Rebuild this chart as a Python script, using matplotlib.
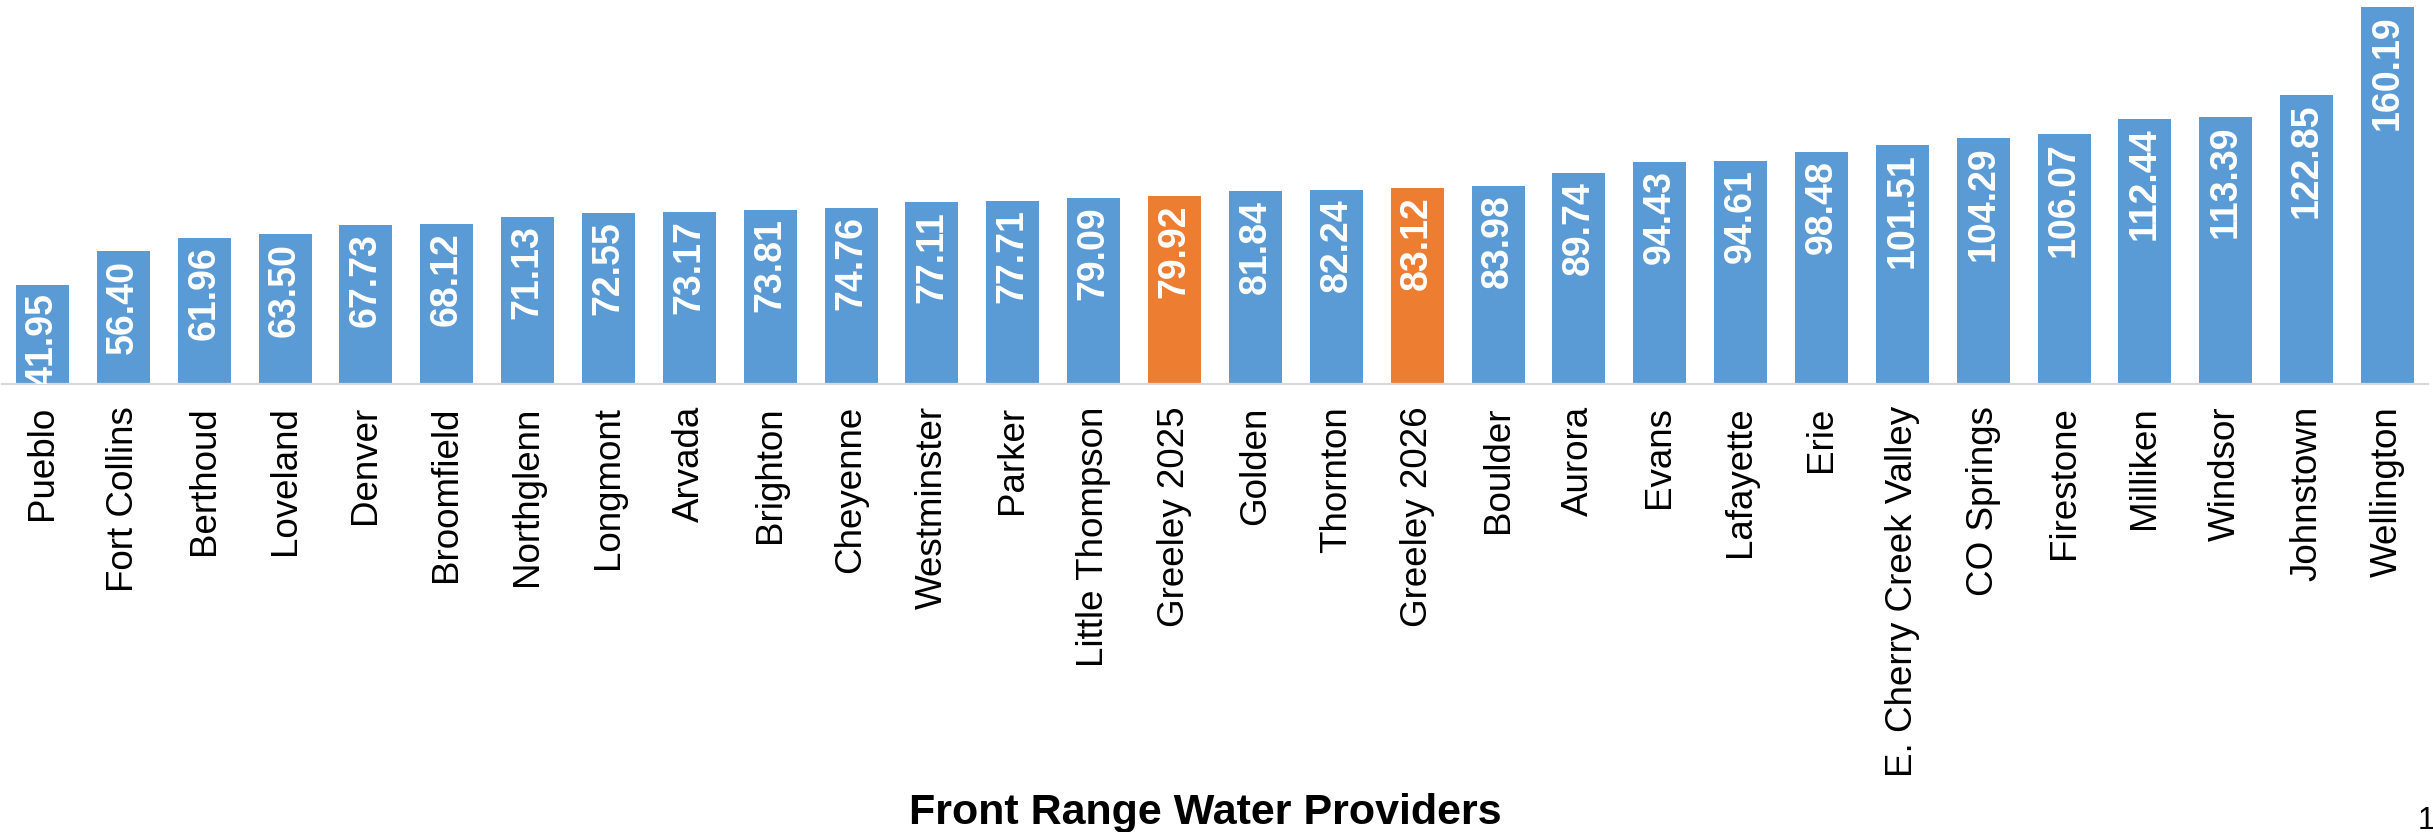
import matplotlib
matplotlib.use("Agg")
import matplotlib.pyplot as plt

providers = ["Pueblo", "Fort Collins", "Berthoud", "Loveland", "Denver", "Broomfield",
             "Northglenn", "Longmont", "Arvada", "Brighton", "Cheyenne", "Westminster",
             "Parker", "Little Thompson", "Greeley 2025", "Golden", "Thornton",
             "Greeley 2026", "Boulder", "Aurora", "Evans", "Lafayette", "Erie",
             "E. Cherry Creek Valley", "CO Springs", "Firestone", "Milliken", "Windsor",
             "Johnstown", "Wellington"]
values = [41.95, 56.40, 61.96, 63.50, 67.73, 68.12, 71.13, 72.55, 73.17, 73.81,
          74.76, 77.11, 77.71, 79.09, 79.92, 81.84, 82.24, 83.12, 83.98, 89.74,
          94.43, 94.61, 98.48, 101.51, 104.29, 106.07, 112.44, 113.39, 122.85, 160.19]
highlight = ["Greeley 2025", "Greeley 2026"]
x_title = "Front Range Water Providers"
page_number = "1"

BLUE = "#5B9BD5"
ORANGE = "#ED7D31"

plt.rcParams['font.family'] = ['Liberation Sans', 'DejaVu Sans']

W, H = 2433, 832
fig = plt.figure(figsize=(W / 100, H / 100), dpi=100)
ax = fig.add_axes([2 / W, (H - 384) / H, 2426 / W, 384 / H])

colors = [ORANGE if p in highlight else BLUE for p in providers]
xs = list(range(len(providers)))
bars = ax.bar(xs, values, width=0.655, color=colors, zorder=2)

ax.set_xlim(-0.5, len(providers) - 0.5)
ax.set_ylim(0, 163.1)

for spine in ["top", "right", "left"]:
    ax.spines[spine].set_visible(False)
ax.spines["bottom"].set_color("#D9D9D9")
ax.spines["bottom"].set_linewidth(1.6)
ax.spines["bottom"].set_zorder(3)
ax.set_yticks([])
ax.set_xticks(xs)
ax.set_xticklabels(providers, rotation=90, fontsize=26.5, color="black")
ax.tick_params(axis="x", length=0, pad=16)

for b, v in zip(bars, values):
    ax.annotate(f"{v:.2f}", xy=(b.get_x() + b.get_width() / 2, v),
                xytext=(0, -6), textcoords="offset points",
                rotation=90, ha="center", va="top", color="white",
                fontsize=27, fontweight="bold", annotation_clip=False,
                clip_on=True, zorder=4)

fig.text(905 / W + (600 / W) / 2, 1 - 824 / H, x_title, ha="center", va="baseline",
         fontsize=31, fontweight="bold", color="black")
fig.text(2426 / W, 1 - 829 / H, page_number, ha="center", va="baseline",
         fontsize=22, color="black")

fig.savefig("out.png", dpi=100)
